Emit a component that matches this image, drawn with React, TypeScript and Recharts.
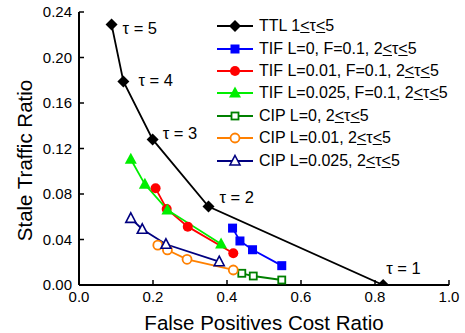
import React from 'react';
import { LineChart, Line, XAxis, YAxis, Legend, LabelList } from 'recharts';

// values
const TTL_X = [0.088, 0.12, 0.199, 0.35, 0.822];
const TTL_Y = [0.229, 0.179, 0.128, 0.069, 0.0];
const TTL_TAU = [5, 4, 3, 2, 1];

const TIF0_X = [0.415, 0.435, 0.469, 0.548];
const TIF0_Y = [0.05, 0.0387, 0.031, 0.017];

const TIF001_X = [0.207, 0.237, 0.294, 0.417];
const TIF001_Y = [0.085, 0.0668, 0.0513, 0.0279];

const TIF0025_X = [0.14, 0.178, 0.239, 0.384];
const TIF0025_Y = [0.1105, 0.0885, 0.066, 0.036];

const CIP0_X = [0.44, 0.471, 0.548];
const CIP0_Y = [0.0103, 0.0079, 0.0044];

const CIP001_X = [0.213, 0.239, 0.292, 0.417];
const CIP001_Y = [0.035, 0.0308, 0.0226, 0.0132];

const CIP0025_X = [0.14, 0.171, 0.235, 0.379];
const CIP0025_Y = [0.0586, 0.049, 0.0358, 0.0205];

const X_TICKS = [0, 0.2, 0.4, 0.6, 0.8, 1.0];
const Y_TICKS = [0, 0.04, 0.08, 0.12, 0.16, 0.2, 0.24];

const FONT = "Arial, 'Liberation Sans', sans-serif";

// text offsets for the tau annotations, relative to each TTL point
const TAU_OFFSETS = [[11, 3], [15, -1], [10, -6], [11, -10], [3, -17]];

const zip = (xs: number[], ys: number[]) => xs.map((x, i) => ({ x, y: ys[i] }));

type Kind = 'diamond' | 'square' | 'circle' | 'triangle' | 'squareOpen' | 'circleOpen' | 'triangleOpen';

const SERIES: { key: string; label: string; color: string; kind: Kind; data: { x: number; y: number; tau?: number }[] }[] = [
  { key: 'ttl', label: 'TTL 1', color: '#000000', kind: 'diamond', data: TTL_X.map((x, i) => ({ x, y: TTL_Y[i], tau: TTL_TAU[i] })) },
  { key: 'tif0', label: 'TIF L=0, F=0.1, 2', color: '#0000FF', kind: 'square', data: zip(TIF0_X, TIF0_Y) },
  { key: 'tif001', label: 'TIF L=0.01, F=0.1, 2', color: '#FF0000', kind: 'circle', data: zip(TIF001_X, TIF001_Y) },
  { key: 'tif0025', label: 'TIF L=0.025, F=0.1, 2', color: '#00EE00', kind: 'triangle', data: zip(TIF0025_X, TIF0025_Y) },
  { key: 'cip0', label: 'CIP L=0, 2', color: '#008000', kind: 'squareOpen', data: zip(CIP0_X, CIP0_Y) },
  { key: 'cip001', label: 'CIP L=0.01, 2', color: '#FF8000', kind: 'circleOpen', data: zip(CIP001_X, CIP001_Y) },
  { key: 'cip0025', label: 'CIP L=0.025, 2', color: '#000080', kind: 'triangleOpen', data: zip(CIP0025_X, CIP0025_Y) },
];

const Marker = ({ kind, cx, cy, color }: { kind: Kind; cx: number; cy: number; color: string }) => {
  switch (kind) {
    case 'diamond':
      return <polygon points={`${cx},${cy - 6} ${cx + 6},${cy} ${cx},${cy + 6} ${cx - 6},${cy}`} fill={color} />;
    case 'square':
      return <rect x={cx - 4.5} y={cy - 4.5} width={9} height={9} fill={color} />;
    case 'circle':
      return <circle cx={cx} cy={cy} r={5} fill={color} />;
    case 'triangle':
      return <polygon points={`${cx},${cy - 6.5} ${cx + 6},${cy + 4.5} ${cx - 6},${cy + 4.5}`} fill={color} />;
    case 'squareOpen':
      return <rect x={cx - 3.5} y={cy - 3.5} width={7} height={7} fill="#fff" stroke={color} strokeWidth={1.8} />;
    case 'circleOpen':
      return <circle cx={cx} cy={cy} r={4.5} fill="#fff" stroke={color} strokeWidth={1.8} />;
    case 'triangleOpen':
      return <polygon points={`${cx},${cy - 5.5} ${cx + 5},${cy + 4} ${cx - 5},${cy + 4}`} fill="#fff" stroke={color} strokeWidth={1.6} />;
  }
  return null;
};

const RangeText = () => (
  <>
    <span style={{ textDecoration: 'underline' }}>&lt;</span>τ<span style={{ textDecoration: 'underline' }}>&lt;</span>5
  </>
);

const LegendBox = () => (
  <div style={{ fontFamily: FONT, fontSize: 16, color: '#000' }}>
    {SERIES.map(s => (
      <div key={s.key} style={{ display: 'flex', alignItems: 'center', height: 22.4, whiteSpace: 'nowrap' }}>
        <svg width={38} height={16} style={{ marginRight: 4 }}>
          <line x1={0} y1={8} x2={36} y2={8} stroke={s.color} strokeWidth={1.8} />
          <Marker kind={s.kind} cx={18} cy={8} color={s.color} />
        </svg>
        <span>{s.label}<RangeText /></span>
      </div>
    ))}
  </div>
);

const TauLabel = (props: any) => {
  const { x, y, value, index } = props;
  const [dx, dy] = TAU_OFFSETS[index] || [10, -10];
  return (
    <text x={x + dx} y={y + dy} dominantBaseline="central" fontSize={16.5} fontFamily={FONT} fill="#000">
      {`τ = ${value}`}
    </text>
  );
};

const axisLine = { stroke: '#000', strokeWidth: 2 };
const tickLine = { stroke: '#000', strokeWidth: 1.5 };
const tickStyle = { fill: '#000', fontSize: 15, fontFamily: FONT };

export default function App() {
  return (
    <div style={{ position: 'absolute', left: 0, top: 0, width: 465, height: 333, background: '#fff' }}>
      <LineChart width={465} height={333} margin={{ top: 12, right: 16, left: 0, bottom: 0 }}>
        <XAxis
          type="number"
          dataKey="x"
          domain={[0, 1]}
          ticks={X_TICKS}
          tickFormatter={(v: number) => v.toFixed(1)}
          height={48}
          tickSize={-5}
          tickMargin={11}
          axisLine={axisLine}
          tickLine={tickLine}
          tick={tickStyle}
          allowDataOverflow
          label={{
            content: ({ viewBox }: any) => (
              <text x={viewBox.x + viewBox.width / 2} y={viewBox.y + 37} textAnchor="middle" dominantBaseline="central" fontSize={20.5} fontFamily={FONT} fill="#000">
                False Positives Cost Ratio
              </text>
            ),
          }}
        />
        <XAxis
          xAxisId="top"
          orientation="top"
          type="number"
          domain={[0, 1]}
          ticks={X_TICKS}
          tickFormatter={() => ''}
          height={0}
          tickSize={-5}
          axisLine={axisLine}
          tickLine={tickLine}
        />
        <YAxis
          type="number"
          domain={[0, 0.24]}
          ticks={Y_TICKS}
          tickFormatter={(v: number) => v.toFixed(2)}
          width={79}
          tickSize={-5}
          tickMargin={12}
          axisLine={axisLine}
          tickLine={tickLine}
          tick={tickStyle}
          allowDataOverflow
          label={{
            content: ({ viewBox }: any) => {
              const cx = viewBox.x + 24;
              const cy = viewBox.y + viewBox.height / 2 + 12;
              return (
                <text x={cx} y={cy} transform={`rotate(-90 ${cx} ${cy})`} textAnchor="middle" dominantBaseline="central" fontSize={20.5} fontFamily={FONT} fill="#000">
                  Stale Traffic Ratio
                </text>
              );
            },
          }}
        />
        <YAxis
          yAxisId="right"
          orientation="right"
          type="number"
          domain={[0, 0.24]}
          ticks={Y_TICKS}
          tickFormatter={() => ''}
          width={0}
          tickSize={-5}
          axisLine={axisLine}
          tickLine={tickLine}
        />
        <Legend
          layout="vertical"
          align="center"
          verticalAlign="middle"
          content={() => <LegendBox />}
          wrapperStyle={{ left: 217, top: 15, width: 240 }}
        />
        {SERIES.map(s => (
          <Line
            key={s.key}
            data={s.data}
            dataKey="y"
            type="linear"
            stroke={s.color}
            strokeWidth={1.8}
            isAnimationActive={false}
            dot={(p: any) => <Marker key={`${s.key}-${p.index}`} kind={s.kind} cx={p.cx} cy={p.cy} color={s.color} />}
            activeDot={false}
          >
            {s.key === 'ttl' && <LabelList dataKey="tau" content={TauLabel} />}
          </Line>
        ))}
      </LineChart>
    </div>
  );
}
